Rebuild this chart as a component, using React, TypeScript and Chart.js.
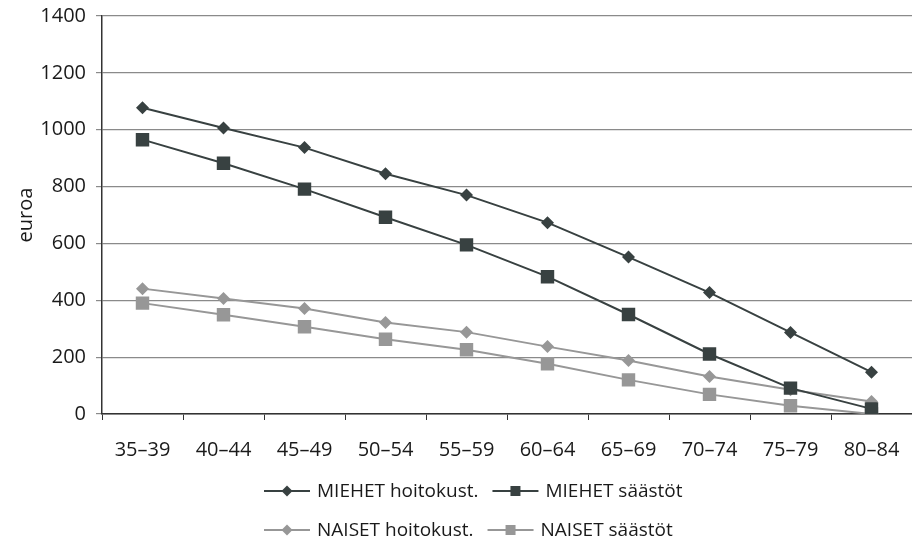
import React, { useEffect, useRef } from "react";
import { Chart, registerables } from "chart.js";

Chart.register(...registerables);

const categories = ["35–39", "40–44", "45–49", "50–54", "55–59", "60–64", "65–69", "70–74", "75–79", "80–84"];
const miehetHoito = [1077, 1006, 937, 845, 770, 673, 552, 427, 287, 147];
const miehetSaasto = [965, 882, 791, 692, 595, 483, 350, 211, 91, 18];
const naisetHoito = [441, 406, 371, 322, 288, 237, 188, 132, 85, 44];
const naisetSaasto = [390, 349, 307, 263, 226, 177, 120, 69, 29, 0];
const yTicks = [0, 200, 400, 600, 800, 1000, 1200, 1400];

const DARK = "#384141";
const LIGHT = "#979797";
const FONT = "'Open Sans', 'DejaVu Sans', sans-serif";
const FS = 20;
const LFS = 19;

const legendPlugin = {
  id: "customLegend",
  afterDraw(chart: any) {
    const ctx = chart.ctx;
    const ds = chart.data.datasets;
    const rows = [[0, 1], [2, 3]];
    const rowY = [491, 530];
    ctx.save();
    ctx.font = `${LFS}px ${FONT}`;
    ctx.textBaseline = "middle";
    rows.forEach((row, ri) => {
      let x = 264;
      const y = rowY[ri];
      row.forEach((i) => {
        const d = ds[i];
        ctx.strokeStyle = d.borderColor;
        ctx.lineWidth = 2;
        ctx.beginPath();
        ctx.moveTo(x, y);
        ctx.lineTo(x + 46, y);
        ctx.stroke();
        ctx.fillStyle = d.pointBackgroundColor;
        ctx.beginPath();
        if (d.pointStyle === "rectRot") {
          const r = 5.5;
          ctx.moveTo(x + 23, y - r);
          ctx.lineTo(x + 23 + r, y);
          ctx.lineTo(x + 23, y + r);
          ctx.lineTo(x + 23 - r, y);
          ctx.closePath();
        } else {
          ctx.rect(x + 23 - 5, y - 5, 10, 10);
        }
        ctx.fill();
        x += 53;
        ctx.fillStyle = "#1a1a1a";
        ctx.textAlign = "left";
        ctx.fillText(d.label, x, y + 1);
        x += ctx.measureText(d.label).width + 14;
      });
    });
    ctx.restore();
  },
};

export default function App() {
  const ref = useRef<HTMLCanvasElement>(null);
  useEffect(() => {
    document.body.style.margin = "0";
    const mk = (label: string, data: number[], color: string, style: string, r: number) => ({
      label,
      data,
      borderColor: color,
      backgroundColor: color,
      pointBackgroundColor: color,
      pointBorderColor: color,
      pointBorderWidth: 0,
      pointStyle: style,
      pointRadius: r,
      borderWidth: 2,
      tension: 0,
    });
    const chart = new Chart(ref.current!, {
      type: "line",
      data: {
        labels: categories,
        datasets: [
          mk("MIEHET hoitokust.", miehetHoito, DARK, "rectRot", 6.5),
          mk("MIEHET säästöt", miehetSaasto, DARK, "rect", 9.5),
          mk("NAISET hoitokust.", naisetHoito, LIGHT, "rectRot", 6.5),
          mk("NAISET säästöt", naisetSaasto, LIGHT, "rect", 9.5),
        ] as any,
      },
      options: {
        animation: false,
        responsive: false,
        layout: { autoPadding: false, padding: { top: 16, right: -2, left: 0, bottom: 0 } },
        plugins: { legend: { display: false }, tooltip: { enabled: false } },
        scales: {
          x: {
            offset: true,
            afterFit: (s: any) => {
              s.height = 146;
              s.paddingLeft = 0;
              s.paddingRight = 0;
            },
            grid: { offset: true, drawOnChartArea: false, drawTicks: true, tickLength: 6, color: "#333" },
            border: { color: "#333", width: 1.5 },
            ticks: { color: "#1a1a1a", font: { family: FONT, size: FS }, padding: 18, maxRotation: 0 },
          },
          y: {
            min: 0,
            max: 1400,
            afterFit: (s: any) => {
              s.width = 102;
              s.paddingTop = 0;
              s.paddingBottom = 0;
            },
            afterBuildTicks: (s: any) => { s.ticks = yTicks.map((v) => ({ value: v })); },
            grid: { color: "#8a8a8a", lineWidth: 1.2, tickLength: 6 },
            border: { color: "#333", width: 1.5 },
            ticks: {
              color: "#1a1a1a",
              font: { family: FONT, size: FS },
              padding: 10,
              callback: (v: any) => String(v),
            },
            title: {
              display: true,
              text: "euroa",
              color: "#1a1a1a",
              font: { family: FONT, size: FS },
              padding: { top: 14, bottom: 0 },
            },
          },
        },
      },
      plugins: [legendPlugin],
    });
    return () => chart.destroy();
  }, []);
  return <canvas ref={ref} width={912} height={560} style={{ display: "block" }} />;
}
